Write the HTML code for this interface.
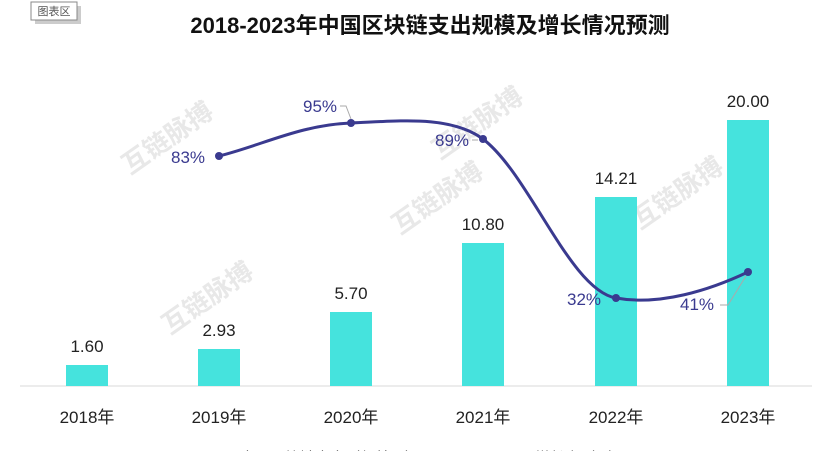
<!DOCTYPE html>
<html><head><meta charset="utf-8"><style>
body{margin:0;width:831px;height:451px;overflow:hidden;background:#fff;font-family:"Liberation Sans","Noto Sans CJK SC",sans-serif}
</style></head><body>
<svg width="831" height="451" viewBox="0 0 831 451" xmlns="http://www.w3.org/2000/svg" font-family="Liberation Sans, Noto Sans CJK SC, sans-serif">
<rect x="33" y="4" width="46" height="18" fill="#999" opacity="0.5" transform="translate(2,2)"/>
<rect x="31" y="2" width="46" height="18" fill="#fff" stroke="#888"/>
<text x="54" y="15" font-size="11" fill="#555" text-anchor="middle">图表区</text>
<text x="430" y="33" font-size="22" font-weight="bold" text-anchor="middle" fill="#111">2018-2023年中国区块链支出规模及增长情况预测</text>
<g fill="#e8e8e8" font-size="26" font-weight="bold">
<text x="130" y="175" transform="rotate(-35 130 175)">互链脉搏</text>
<text x="170" y="335" transform="rotate(-35 170 335)">互链脉搏</text>
<text x="400" y="235" transform="rotate(-35 400 235)">互链脉搏</text>
<text x="640" y="230" transform="rotate(-35 640 230)">互链脉搏</text>
<text x="440" y="160" transform="rotate(-35 440 160)">互链脉搏</text>
</g>
<line x1="20" y1="386" x2="812" y2="386" stroke="#d9d9d9"/>
<g fill="#45e3dd">
<rect x="66" y="365" width="42" height="21"/>
<rect x="198" y="349" width="42" height="37"/>
<rect x="330" y="312" width="42" height="74"/>
<rect x="462" y="243" width="42" height="143"/>
<rect x="595" y="197" width="42" height="189"/>
<rect x="727" y="120" width="42" height="266"/>
</g>
<g font-size="17" fill="#222" text-anchor="middle">
<text x="87" y="352">1.60</text>
<text x="219" y="336">2.93</text>
<text x="351" y="299">5.70</text>
<text x="483" y="230">10.80</text>
<text x="616" y="184">14.21</text>
<text x="748" y="107">20.00</text>
<text x="87" y="423">2018年</text>
<text x="219" y="423">2019年</text>
<text x="351" y="423">2020年</text>
<text x="483" y="423">2021年</text>
<text x="616" y="423">2022年</text>
<text x="748" y="423">2023年</text>
</g>
<path d="M219,156 C263,145 300,125 351,123 C400,121 450,115 483,139 C530,175 570,290 616,298 C660,306 710,290 748,272" fill="none" stroke="#3a3a8f" stroke-width="3"/>
<g fill="#3a3a8f"><circle cx="219" cy="156" r="4"/><circle cx="351" cy="123" r="4"/><circle cx="483" cy="139" r="4"/><circle cx="616" cy="298" r="4"/><circle cx="748" cy="272" r="4"/></g>
<g stroke="#aaa" fill="none"><path d="M340,106 L346,106 L351,119"/><path d="M472,140 L478,140"/><path d="M720,305 L728,305 L746,276"/></g>
<g font-size="17" fill="#3a3a8f" text-anchor="middle">
<text x="188" y="163">83%</text>
<text x="320" y="112">95%</text>
<text x="452" y="146">89%</text>
<text x="584" y="305">32%</text>
<text x="697" y="310">41%</text>
</g>
<g font-size="15" fill="#333">
<line x1="205" y1="458" x2="230" y2="458" stroke="#45e3dd" stroke-width="4"/>
<text x="240" y="463">中国区块链支出（亿美元）</text>
<line x1="500" y1="458" x2="525" y2="458" stroke="#f0c040" stroke-width="4"/>
<text x="535" y="463">增长率（%）</text>
</g>
</svg>
</body></html>
